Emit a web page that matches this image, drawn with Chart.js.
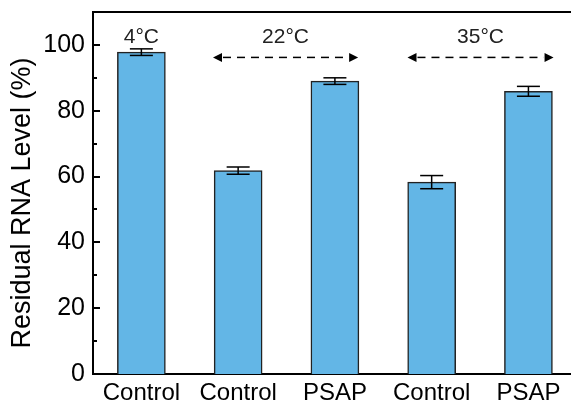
<!DOCTYPE html>
<html>
<head>
<meta charset="utf-8">
<script src="https://cdn.jsdelivr.net/npm/chart.js@4/dist/chart.umd.min.js"></script>
<style>
  html, body { margin: 0; padding: 0; background: #fff; overflow: hidden; }
  #wrap { width: 571px; height: 402px; }
</style>
</head>
<body>
<div id="wrap"><canvas id="chartjs"></canvas></div>
<script>
const categories = ["Control", "Control", "PSAP", "Control", "PSAP"];
const residual = [97.8, 61.8, 89.0, 58.3, 85.9];
const errors = [1.0, 1.1, 1.0, 2.0, 1.5];
const yMajor = [0, 20, 40, 60, 80, 100];
const yMinor = [10, 30, 50, 70, 90];
const yTitle = "Residual RNA Level (%)";
const tempLabels = ["4°C", "22°C", "35°C"];
const tempFrom = [1, 1.74, 3.75];
const tempTo = [1, 3.24, 5.26];

const FONT = "'Liberation Sans', Arial, sans-serif";

// straight lines as thin rects, so no canvas path is stroked at all
function hLine(ctx, x0, x1, y, w) {
  ctx.fillRect(Math.min(x0, x1), y - w / 2, Math.abs(x1 - x0), w);
}
function vLine(ctx, x, y0, y1, w) {
  ctx.fillRect(x - w / 2, Math.min(y0, y1), w, Math.abs(y1 - y0));
}

const extras = {
  id: "extras",
  afterDatasetsDraw(chart) {
    const { ctx, chartArea } = chart;
    const x = chart.scales.x;
    const y = chart.scales.y;
    ctx.save();
    ctx.beginPath();
    ctx.fillStyle = "#000";
    // top frame line
    hLine(ctx, chartArea.left - 1, chartArea.right, chartArea.top, 2);
    // inward ticks
    yMajor.concat(yMinor).forEach((v) => {
      const py = Math.round(y.getPixelForValue(v));
      const len = yMajor.includes(v) ? 7 : 4;
      hLine(ctx, chartArea.left, chartArea.left + len, py, 2);
    });
    // error bars
    residual.forEach((v, i) => {
      const px = x.getPixelForValue(i + 1);
      const top = y.getPixelForValue(v + errors[i]);
      const bot = y.getPixelForValue(v - errors[i]);
      vLine(ctx, px, top, bot, 1.5);
      hLine(ctx, px - 11.5, px + 11.5, top, 1.5);
      hLine(ctx, px - 11.5, px + 11.5, bot, 1.5);
    });
    // temperature labels + dashed arrows
    ctx.font = "21px " + FONT;
    ctx.textAlign = "center";
    ctx.textBaseline = "middle";
    tempLabels.forEach((t, i) => {
      const x0 = x.getPixelForValue(tempFrom[i]);
      const x1 = x.getPixelForValue(tempTo[i]);
      ctx.fillStyle = "#222";
      ctx.fillText(t, (x0 + x1) / 2, y.getPixelForValue(102.3));
      if (x1 - x0 < 1) return;
      const ay = y.getPixelForValue(96.2);
      ctx.fillStyle = "#000";
      for (let d = x0 + 10; d < x1 - 10; d += 14) {
        hLine(ctx, d, Math.min(d + 8, x1 - 10), ay, 1.5);
      }
      ctx.beginPath();
      ctx.moveTo(x0, ay);
      ctx.lineTo(x0 + 9, ay - 4.5);
      ctx.lineTo(x0 + 9, ay + 4.5);
      ctx.closePath();
      ctx.fill();
      ctx.beginPath();
      ctx.moveTo(x1, ay);
      ctx.lineTo(x1 - 9, ay - 4.5);
      ctx.lineTo(x1 - 9, ay + 4.5);
      ctx.closePath();
      ctx.fill();
    });
    // y axis title (sits a bit below the plot's middle in the original)
    ctx.fillStyle = "#000";
    ctx.font = "27px " + FONT;
    ctx.translate(23, (chartArea.top + chartArea.bottom) / 2 + 10);
    ctx.rotate(-Math.PI / 2);
    ctx.fillText(yTitle, 0, 0);
    ctx.restore();
  },
};

new Chart("chartjs", {
  type: "bar",
  plugins: [extras],
  data: {
    datasets: [
      {
        data: residual.map((v, i) => ({ x: i + 1, y: v })),
        backgroundColor: "#63B6E6",
        borderColor: "#222",
        borderWidth: 1.5,
        barThickness: 48,
      },
    ],
  },
  options: {
    responsive: true,
    maintainAspectRatio: false,
    animation: false,
    layout: { padding: { top: 12, right: 0, left: 0, bottom: 0 } },
    scales: {
      x: {
        type: "linear",
        offset: false,
        min: 0.5,
        max: 5.44,
        afterBuildTicks: (scale) => {
          scale.ticks = categories.map((c, i) => ({ value: i + 1 }));
        },
        afterFit: (scale) => {
          scale.height = 28;
          scale.paddingLeft = 0;
          scale.paddingRight = 0;
        },
        ticks: {
          color: "#000",
          padding: 5,
          maxRotation: 0,
          autoSkip: false,
          font: { family: FONT, size: 24 },
          callback: (v) => categories[v - 1],
        },
        grid: { display: false, drawTicks: false },
        border: { display: true, color: "#000", width: 2 },
      },
      y: {
        min: 0,
        max: 110,
        afterBuildTicks: (scale) => {
          scale.ticks = yMajor.map((v) => ({ value: v }));
        },
        afterFit: (scale) => {
          scale.width = 93;
          scale.paddingTop = 0;
          scale.paddingBottom = 0;
        },
        ticks: {
          color: "#000",
          padding: 8,
          font: { family: FONT, size: 25 },
        },
        grid: { display: false, drawTicks: false },
        border: { display: true, color: "#000", width: 2 },
      },
    },
    plugins: {
      legend: { display: false },
      tooltip: { enabled: false },
    },
  },
});
</script>
</body>
</html>
